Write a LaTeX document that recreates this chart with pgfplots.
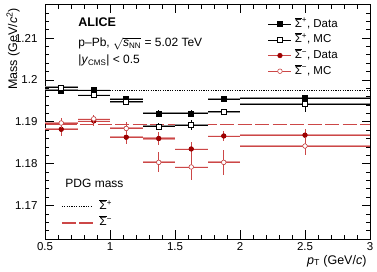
\documentclass[border=0pt]{standalone}
\usepackage{pgfplots}
\usepackage{pgfplotstable}
\pgfplotsset{compat=1.18}
\usepackage{fontspec}
\setmainfont{Liberation Sans}
\definecolor{dred}{rgb}{0.62,0,0}
\definecolor{mred}{rgb}{0.80,0.28,0.28}
\definecolor{lred}{rgb}{0.93,0.70,0.70}
\newcommand{\SigBar}{$\overline{\mbox{Σ}}$}

\pgfplotstableread{
x y ex ey
0.625 1.1975 0.125 0.0006
0.875 1.1976 0.125 0.0005
1.125 1.1954 0.125 0.0007
1.375 1.1920 0.125 0.0007
1.625 1.1920 0.125 0.0008
1.875 1.1954 0.125 0.0008
2.5   1.1956 0.5   0.0006
}\bdata
\pgfplotstableread{
x y ex ey
0.625 1.1982 0.125 0.0004
0.875 1.1964 0.125 0.0005
1.125 1.1948 0.125 0.0007
1.375 1.1889 0.125 0.0008
1.625 1.1892 0.125 0.0011
1.875 1.1924 0.125 0.0007
2.5   1.1942 0.5   0.0018
}\bmc
\pgfplotstableread{
x y ex ey
0.625 1.1882 0.125 0.0015
0.875 1.1902 0.125 0.0012
1.125 1.1863 0.125 0.0015
1.375 1.1860 0.125 0.0015
1.625 1.1835 0.125 0.0017
1.875 1.1866 0.125 0.0012
2.5   1.1868 0.5   0.0015
}\rdata
\pgfplotstableread{
x y ex ey
0.625 1.1897 0.125 0.0012
0.875 1.1907 0.125 0.0010
1.125 1.1884 0.125 0.0015
1.375 1.1803 0.125 0.0024
1.625 1.1792 0.125 0.0032
1.875 1.1803 0.125 0.0030
2.5   1.1842 0.5   0.0022
}\rmc

\begin{document}
\begin{tikzpicture}
\useasboundingbox (0,0) rectangle (377pt,272pt);
\pgfplotsset{common/.style={scale only axis, width=325pt, height=234.5pt,
  at={(45pt,33pt)}, anchor=south west, xmin=0.5, xmax=3, ymin=1.162, ymax=1.218}}
% PDG lines and their legend
\begin{axis}[common, hide axis,
  legend style={at={(axis description cs:0.049,0.1676)}, anchor=north west,
    draw=none, fill=none, inner sep=0pt, row sep=2pt,
    font=\fontsize{12}{14}\selectfont,
    nodes={inner sep=1pt, text height=9pt, text depth=3pt},
    /tikz/every odd column/.append style={column sep=5pt}},
  legend cell align=left,
  legend image code/.code={\draw[#1] (0pt,0pt) -- (31pt,0pt);}]
\addplot[black, line width=0.8pt, dash pattern=on 1.2pt off 1.2pt] coordinates {(0.5,1.19745) (3,1.19745)};
\addlegendentry{\SigBar\textsuperscript{+}}
\addplot[mred, line width=1.3pt, dash pattern=on 14pt off 3.5pt] coordinates {(0.5,1.18937) (3,1.18937)};
\addlegendentry{\SigBar\textsuperscript{−}}
\end{axis}
\begin{axis}[common, clip mode=individual,
  axis line style={line width=0.8pt},
  tick style={line width=0.6pt, black},
  tick align=inside, major tick length=8.5pt, minor tick length=4.2pt,
  xtick={0.5,1,1.5,2,2.5,3},
  minor xtick={0.6,0.7,0.8,0.9,1.1,1.2,1.3,1.4,1.6,1.7,1.8,1.9,2.1,2.2,2.3,2.4,2.6,2.7,2.8,2.9},
  ytick={1.17,1.18,1.19,1.2,1.21},
  minor ytick={1.162,1.164,1.166,1.168,1.172,1.174,1.176,1.178,1.182,1.184,1.186,1.188,1.192,1.194,1.196,1.198,1.202,1.204,1.206,1.208,1.212,1.214,1.216,1.218},
  /pgf/number format/assume math mode=true,
  ticklabel style={font=\fontsize{11.5}{13}\selectfont},
  yticklabel style={xshift=-4pt, /pgf/number format/fixed, /pgf/number format/precision=2},
  xticklabel style={/pgf/number format/fixed, /pgf/number format/precision=1},
  xlabel={\textit{p}\textsubscript{T} (GeV/\textit{c})},
  ylabel={Mass (GeV/\textit{c}\textsuperscript{2})},
  label style={font=\fontsize{12.5}{14}\selectfont},
  xlabel style={at={(axis description cs:1,-0.107)}, anchor=base east},
  ylabel style={at={(axis description cs:-0.086,1)}, anchor=base east},
  legend style={at={(axis description cs:0.686,0.947)}, anchor=north west,
    draw=none, fill=none, inner sep=0pt, row sep=1.7pt,
    font=\fontsize{11.5}{13}\selectfont,
    nodes={inner sep=1pt, text height=9pt, text depth=3pt},
    /tikz/every odd column/.append style={column sep=2pt}},
  legend cell align=left,
  legend image code/.code={\draw[#1, mark=none] (0pt,0pt) -- (23pt,0pt); \draw[#1] plot coordinates {(11.5pt,0pt)};}
]
% systematic boxes (approximate as bands)
\addplot[only marks, mark=none, forget plot, error bars/.cd, x dir=both, x explicit,
  error mark=none, error bar style={line width=2.1pt, mred!55}] table[x=x,y=y,x error=ex]{\rmc};
\addplot[only marks, mark=none, forget plot, error bars/.cd, x dir=both, x explicit,
  error mark=none, error bar style={line width=1.0pt, lred!35}] table[x=x,y=y,x error=ex]{\rmc};
\addplot[only marks, mark=none, forget plot, error bars/.cd, x dir=both, x explicit,
  error mark=none, error bar style={line width=2.1pt, mred!55}] table[x=x,y=y,x error=ex]{\rdata};
\addplot[only marks, mark=none, forget plot, error bars/.cd, x dir=both, x explicit,
  error mark=none, error bar style={line width=1.0pt, lred!35}] table[x=x,y=y,x error=ex]{\rdata};
\addplot[only marks, mark=none, forget plot, error bars/.cd, x dir=both, x explicit,
  error mark=none, error bar style={line width=2.0pt, black!45}] table[x=x,y=y,x error=ex]{\bmc};
\addplot[only marks, mark=none, forget plot, error bars/.cd, x dir=both, x explicit,
  error mark=none, error bar style={line width=0.9pt, black!10}] table[x=x,y=y,x error=ex]{\bmc};
\addplot[only marks, mark=none, forget plot, error bars/.cd, x dir=both, x explicit,
  error mark=none, error bar style={line width=2.0pt, black!45}] table[x=x,y=y,x error=ex]{\bdata};
\addplot[only marks, mark=none, forget plot, error bars/.cd, x dir=both, x explicit,
  error mark=none, error bar style={line width=0.9pt, black!10}] table[x=x,y=y,x error=ex]{\bdata};
% statistical
\addplot[black, line width=0.6pt, only marks, mark=square*, mark size=2.5pt, mark options={fill=black, solid},
  error bars/.cd, x dir=both, x explicit, y dir=both, y explicit, error mark=none,
  error bar style={line width=0.6pt, black}] table[x=x,y=y,x error=ex,y error=ey]{\bdata};
\addlegendentry{\SigBar\textsuperscript{+}, Data}
\addplot[black, line width=0.6pt, only marks, mark=square*, mark size=2.5pt, mark options={fill=white, solid},
  error bars/.cd, x dir=both, x explicit, y dir=both, y explicit, error mark=none,
  error bar style={line width=0.6pt, black}] table[x=x,y=y,x error=ex,y error=ey]{\bmc};
\addlegendentry{\SigBar\textsuperscript{+}, MC}
\addplot[mred, line width=0.6pt, only marks, mark=*, mark size=2.3pt, mark options={fill=dred, draw=dred, solid},
  error bars/.cd, x dir=both, x explicit, y dir=both, y explicit, error mark=none,
  error bar style={line width=0.6pt, mred}] table[x=x,y=y,x error=ex,y error=ey]{\rdata};
\addlegendentry{\SigBar\textsuperscript{−}, Data}
\addplot[mred, line width=0.6pt, only marks, mark=*, mark size=2.3pt, mark options={fill=white, draw=mred, solid},
  error bars/.cd, x dir=both, x explicit, y dir=both, y explicit, error mark=none,
  error bar style={line width=0.6pt, mred}] table[x=x,y=y,x error=ex,y error=ey]{\rmc};
\addlegendentry{\SigBar\textsuperscript{−}, MC}
% texts
\node[anchor=base west, font=\fontsize{12.5}{14}\selectfont\bfseries] at (axis description cs:0.092,0.908) {ALICE};
\node[anchor=base west, font=\fontsize{12}{14}\selectfont] at (axis description cs:0.092,0.820) {p–Pb, $\sqrt{\mbox{\textit{s}\textsubscript{NN}}}$ = 5.02 TeV};
\node[anchor=base west, font=\fontsize{12}{14}\selectfont] at (axis description cs:0.092,0.749) {|\textit{y}\textsubscript{CMS}| < 0.5};
\node[anchor=base west, font=\fontsize{12}{14}\selectfont] at (axis description cs:0.052,0.2175) {PDG mass};
\end{axis}
\end{tikzpicture}
\end{document}
